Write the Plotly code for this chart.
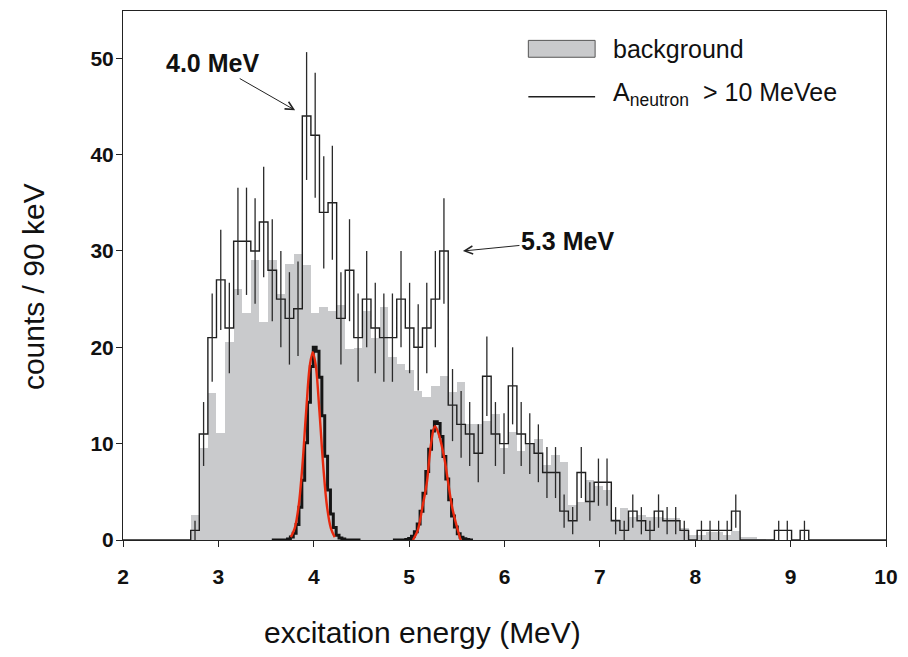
import math
import plotly.graph_objects as go

# ---------------- data ----------------
bin_start = 2.71          # MeV, left edge of first bin
bin_width = 0.09          # MeV (90 keV)

counts = [1, 11, 21, 27, 22, 31, 31, 30, 33, 28,
          25, 23, 24, 44, 42, 34, 35, 23, 28, 21,
          25, 22, 21, 21, 25, 22, 20, 22, 25, 30,
          14, 12, 11, 9, 17, 11, 10, 16, 11, 10,
          9, 7, 7, 3, 2, 7, 4, 6, 6, 2,
          1, 3, 2, 1, 3, 2, 2, 1, 0, 1,
          1, 1, 1, 3, 0, 0, 0, 0, 1, 1,
          0, 1]

background = [2.6, 9.5, 15.3, 11.1, 20.6, 26.1, 23.6, 29.1, 22.6, 29.1,
              25.5, 28.6, 29.7, 28.5, 23.6, 24.2, 23.8, 24.4, 19.8, 19.9,
              23.8, 21.0, 24.2, 19.0, 18.3, 17.6, 15.5, 14.8, 16.0, 17.0,
              15.4, 16.4, 12.0, 12.0, 12.4, 13.1, 9.5, 11.2, 9.2, 10.0,
              10.5, 7.8, 8.8, 8.1, 3.6, 3.9, 6.2, 5.6, 5.2, 2.2,
              3.3, 2.4, 2.6, 2.4, 2.4, 2.3, 2.3, 1.2, 0.5, 0.5,
              0.8, 0.8, 0.5, 0.9, 0.3, 0.3, 0.1, 0, 0, 0,
              0, 0]

# simulated peak response (black, finely binned)
sim1_x = [3.56, 3.59, 3.62, 3.65, 3.68, 3.71, 3.74, 3.77, 3.80, 3.83, 3.86,
          3.89, 3.92, 3.95, 3.98, 4.01, 4.04, 4.07, 4.10, 4.13, 4.16, 4.19,
          4.22, 4.25, 4.28, 4.31, 4.34, 4.37, 4.40, 4.43, 4.46, 4.49]
sim1_y = [0, 0, 0, 0, 0, 0, 0.1, 0.3, 0.7, 1.6, 3.4,
          6.2, 10.1, 14.3, 18.0, 20.0, 19.6, 16.9, 12.9, 8.7, 5.2, 2.7,
          1.3, 0.5, 0.2, 0.1, 0, 0, 0, 0, 0, 0]

sim2_x = [4.83, 4.86, 4.89, 4.92, 4.95, 4.98, 5.01, 5.04, 5.07, 5.10,
          5.13, 5.16, 5.19, 5.22, 5.25, 5.28, 5.31, 5.34, 5.37, 5.40,
          5.43, 5.46, 5.49, 5.52, 5.55, 5.58, 5.61, 5.64, 5.67]
sim2_y = [0, 0, 0, 0, 0, 0.06, 0.16, 0.39, 0.85, 1.67,
          2.99, 4.84, 7.10, 9.41, 11.3, 12.28, 12.08, 10.75, 8.66, 6.32,
          4.17, 2.49, 1.34, 0.66, 0.29, 0.12, 0.05, 0, 0]

# fitted peaks (red)
fit1_x = [3.76, 3.80, 3.84, 3.88, 3.92, 3.96, 3.99, 4.02, 4.06, 4.10, 4.14, 4.18, 4.22]
fit1_y = [0.3, 1.2, 3.4, 7.6, 13.3, 18.2, 19.5, 18.2, 13.3, 7.6, 3.4, 1.2, 0.3]

fit2_x = [5.04, 5.09, 5.14, 5.185, 5.23, 5.27, 5.31, 5.37, 5.41, 5.45, 5.50, 5.54]
fit2_y = [0.0, 1.0, 3.45, 5.9, 10.0, 11.8, 11.0, 8.45, 5.9, 3.45, 1.4, 0.0]

x_ticks = [2, 3, 4, 5, 6, 7, 8, 9, 10]
y_ticks = [0, 10, 20, 30, 40, 50]

# ---------------- derived geometry ----------------
n = len(counts)
edges = [bin_start + bin_width * k for k in range(n + 1)]
centers = [bin_start + bin_width * (k + 0.5) for k in range(n)]

step_x = [2.0] + edges + [10.0]
step_y = [0] + counts + [0, 0]

err_x = [c for c, v in zip(centers, counts) if v > 0]
err_y = [v for v in counts if v > 0]
err_e = [math.sqrt(v) for v in counts if v > 0]

GRAY = "#c9cacc"
DARK = "#1f1f1f"
RED = "#e8290e"
FONT = "Liberation Sans, Arial, sans-serif"

fig = go.Figure()

fig.add_trace(go.Bar(x=centers, y=background, width=bin_width,
                     marker=dict(color=GRAY, line=dict(width=0)),
                     showlegend=False, hoverinfo="skip"))

for sx, sy in ((sim1_x, sim1_y), (sim2_x, sim2_y)):
    fig.add_trace(go.Scatter(x=sx, y=sy, mode="lines",
                             line=dict(color="#151515", width=3, shape="hvh"),
                             showlegend=False, hoverinfo="skip"))

for fx, fy in ((fit1_x, fit1_y), (fit2_x, fit2_y)):
    fig.add_trace(go.Scatter(x=fx, y=fy, mode="lines",
                             line=dict(color=RED, width=2.4, shape="spline", smoothing=1.0),
                             showlegend=False, hoverinfo="skip"))

fig.add_trace(go.Scatter(x=step_x, y=step_y, mode="lines",
                         line=dict(color=DARK, width=1.4, shape="hv"),
                         showlegend=False, hoverinfo="skip"))

fig.add_trace(go.Scatter(x=err_x, y=err_y, mode="markers",
                         marker=dict(size=0.1, color=DARK, opacity=0),
                         error_y=dict(type="data", array=err_e, visible=True,
                                      color="#2a2a2a", thickness=1.3, width=0),
                         showlegend=False, hoverinfo="skip"))

# ---------------- legend (drawn manually) ----------------
fig.add_shape(type="rect", xref="x", yref="y", x0=6.25, x1=6.95, y0=50.1, y1=51.85,
              fillcolor=GRAY, line=dict(color="#555555", width=1))
fig.add_shape(type="line", xref="x", yref="y", x0=6.25, x1=6.95, y0=46.0, y1=46.0,
              line=dict(color=DARK, width=1.3))
fig.add_annotation(x=7.12, y=50.95, xref="x", yref="y", text="background",
                   showarrow=False, xanchor="left", yanchor="middle",
                   font=dict(family=FONT, size=25, color="#111"))
fig.add_annotation(x=7.12, y=46.3, xref="x", yref="y",
                   text="A<sub>neutron</sub>  &gt; 10 MeVee",
                   showarrow=False, xanchor="left", yanchor="middle",
                   font=dict(family=FONT, size=25, color="#111"))

# ---------------- peak labels with arrows ----------------
fig.add_annotation(x=3.805, y=44.6, ax=2.94, ay=49.5, xref="x", yref="y",
                   axref="x", ayref="y", text="<b>4.0 MeV</b>", showarrow=True,
                   arrowhead=5, arrowsize=1.6, arrowwidth=1, arrowcolor="#222",
                   font=dict(family=FONT, size=25, color="#111"))
fig.add_annotation(x=5.564, y=29.99, ax=6.66, ay=31.06, xref="x", yref="y",
                   axref="x", ayref="y", text="<b>5.3 MeV</b>", showarrow=True,
                   arrowhead=5, arrowsize=1.6, arrowwidth=1, arrowcolor="#222",
                   font=dict(family=FONT, size=25, color="#111"))

# axis titles
fig.add_annotation(x=0.3926, y=-0.1755, xref="paper", yref="paper",
                   xanchor="center", yanchor="middle",
                   text="excitation energy (MeV)", showarrow=False,
                   font=dict(family=FONT, size=30, color="#111"))
fig.add_annotation(x=-0.1173, y=0.479, xref="paper", yref="paper",
                   xanchor="center", yanchor="middle",
                   text="counts / 90 keV", showarrow=False, textangle=-90,
                   font=dict(family=FONT, size=30, color="#111"))

fig.update_layout(
    width=908, height=657,
    margin=dict(l=123, r=16, t=10, b=117),
    paper_bgcolor="white", plot_bgcolor="white",
    bargap=0, barmode="overlay",
    showlegend=False,
)
fig.update_xaxes(range=[2, 10], tickvals=x_ticks, ticktext=[str(t) for t in x_ticks],
                 showline=True, linecolor="#222", linewidth=1, mirror=True,
                 ticks="outside", ticklen=6, tickcolor="#222", showgrid=False, zeroline=False,
                 ticklabelstandoff=12,
                 tickfont=dict(family=FONT, size=21, color="#111", weight="bold"))
fig.update_yaxes(range=[0, 54.9], tickvals=y_ticks, ticktext=[str(t) for t in y_ticks],
                 showline=True, linecolor="#222", linewidth=1, mirror=True,
                 ticks="outside", ticklen=6, tickcolor="#222", showgrid=False, zeroline=False,
                 ticklabelstandoff=-2,
                 tickfont=dict(family=FONT, size=21, color="#111", weight="bold"))

fig.write_html("out.html")
